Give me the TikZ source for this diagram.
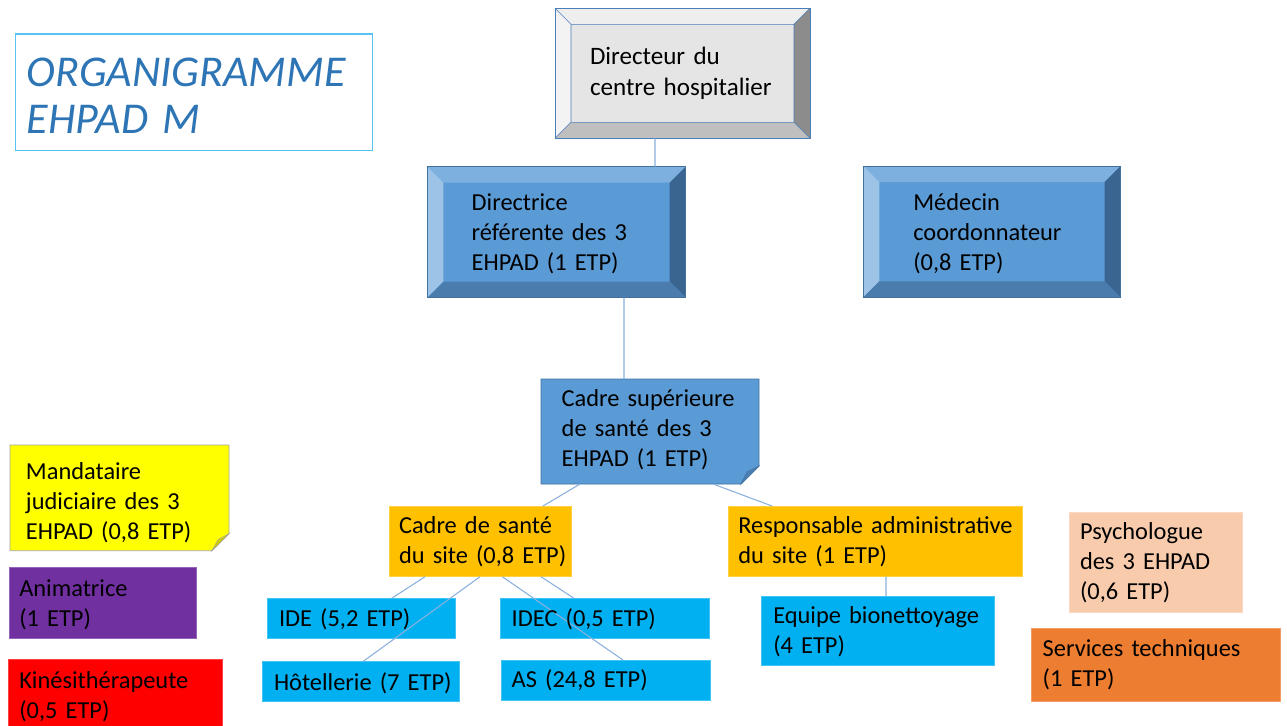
\documentclass[tikz,border=0pt]{standalone}
\usepackage{fontspec}
\setmainfont{Carlito}
\usetikzlibrary{calc,fit}
\definecolor{greyface}{HTML}{E5E5E5}
\definecolor{greytop}{HTML}{EEEEEE}
\definecolor{greyleft}{HTML}{F3F3F3}
\definecolor{greyright}{HTML}{8C8C8C}
\definecolor{greybottom}{HTML}{BFBFBF}
\definecolor{dirborder}{HTML}{4A7EBB}
\definecolor{blueface}{HTML}{5B9BD5}
\definecolor{bluetop}{HTML}{7DAFDF}
\definecolor{blueleft}{HTML}{9DC3E6}
\definecolor{blueright}{HTML}{3B6591}
\definecolor{bluebottom}{HTML}{4A7CAD}
\definecolor{blueborder}{HTML}{41719C}
\definecolor{bluefold}{HTML}{4A80B5}
\definecolor{connblue}{HTML}{8AB0DE}
\definecolor{titleblue}{HTML}{2E75B6}
\definecolor{titleframe}{HTML}{56C3F0}
\definecolor{ambre}{HTML}{FFC000}
\definecolor{cyanbox}{HTML}{00B0F0}
\definecolor{jaune}{HTML}{FFFF00}
\definecolor{jaunefold}{HTML}{CDCD00}
\definecolor{peche}{HTML}{F8CBAD}
\definecolor{orangebox}{HTML}{ED7D31}
\definecolor{violet}{HTML}{7030A0}
\definecolor{rouge}{HTML}{FF0000}
\newcommand\bevelbox[2]{% #1 node name, #2 prefix (grey/blue)
  \fill[#2face] (#1.north west) rectangle (#1.south east);
  \fill[#2top] (#1.north west) -- (#1.north east) -- ($(#1.north east)+(-16,16)$) -- ($(#1.north west)+(16,16)$) -- cycle;
  \fill[#2left] (#1.north west) -- ($(#1.north west)+(16,16)$) -- ($(#1.south west)+(16,-16)$) -- (#1.south west) -- cycle;
  \fill[#2right] (#1.north east) -- ($(#1.north east)+(-16,16)$) -- ($(#1.south east)+(-16,-16)$) -- (#1.south east) -- cycle;
  \fill[#2bottom] (#1.south west) -- ($(#1.south west)+(16,-16)$) -- ($(#1.south east)+(-16,-16)$) -- (#1.south east) -- cycle;
}
\begin{document}
\begin{tikzpicture}[x=0.75pt,y=-0.75pt,
  box/.style={inner sep=0pt,outer sep=0pt},
  txt/.style={anchor=base west,inner sep=0pt,outer sep=0pt,text width=260pt,align=left,
    font=\fontsize{18.3}{22.6}\selectfont},
  flat/.style={box,fill=#1,draw=#1!75!white,line width=0.5pt},
  conn/.style={draw=connblue,line width=0.8pt}]
\useasboundingbox (0,0) rectangle (1287,725);
\fill[white] (0,0) rectangle (1287,725);

% title
\node[box,fit={(15.7,34) (372.3,150.7)},draw=titleframe,line width=0.9pt] (title) {};
\node[txt,text=titleblue,font=\fontsize{33}{35}\selectfont\itshape] (ttitle) at (26.7,86.7) {ORGANIGRAMME\\EHPAD M};

% directeur
\node[box,fit={(555,8.3) (810,138.3)}] (dir) {};
\bevelbox{dir}{grey}
\draw[dirborder,line width=0.6pt] (dir.north west) rectangle (dir.south east);
\draw[dirborder,line width=0.4pt] ($(dir.north west)+(16,16)$) rectangle ($(dir.south east)+(-16,-16)$)
  (dir.north west) -- ++(16,16) (dir.north east) -- ++(-16,16) (dir.south west) -- ++(16,-16) (dir.south east) -- ++(-16,-16);
\node[txt,font=\fontsize{18.8}{23.8}\selectfont] (tdir) at (590,64) {Directeur du\\centre hospitalier};

% directrice
\node[box,fit={(427.3,166.7) (685.7,297.7)}] (dre) {};
\bevelbox{dre}{blue}
\draw[blueborder,line width=0.6pt] (dre.north west) rectangle (dre.south east);
\node[txt] (tdre) at (471.7,210.7) {Directrice\\référente des 3\\EHPAD (1 ETP)};

% medecin
\node[box,fit={(863.3,166) (1120.7,297.3)}] (med) {};
\bevelbox{med}{blue}
\draw[blueborder,line width=0.6pt] (med.north west) rectangle (med.south east);
\node[txt] (tmed) at (913.3,210.7) {Médecin\\coordonnateur\\(0,8 ETP)};

% cadre superieure (folded corner)
\node[box,fit={(541,379) (759,484)}] (csup) {};
\filldraw[fill=blueface,draw=blueborder,line width=0.6pt] (csup.north west) -- (csup.north east) -- ($(csup.south east)+(0,-18)$) -- ($(csup.south east)+(-18,0)$) -- (csup.south west) -- cycle;
\filldraw[fill=bluefold,draw=blueborder,line width=0.4pt] ($(csup.south east)+(0,-18)$) -- ($(csup.south east)+(-12,-12)$) -- ($(csup.south east)+(-18,0)$) -- cycle;
\node[txt] (tcsup) at (561.7,406.7) {Cadre supérieure\\de santé des 3\\EHPAD (1 ETP)};

% mandataire (folded corner)
\node[box,fit={(10,445) (229,550.7)}] (mand) {};
\filldraw[fill=jaune,draw=gray!70,line width=0.5pt] (mand.north west) -- (mand.north east) -- ($(mand.south east)+(0,-17)$) -- ($(mand.south east)+(-17,0)$) -- (mand.south west) -- cycle;
\filldraw[fill=jaunefold,draw=gray!70,line width=0.4pt] ($(mand.south east)+(0,-17)$) -- ($(mand.south east)+(-11,-11)$) -- ($(mand.south east)+(-17,0)$) -- cycle;
\node[txt] (tmand) at (26,479.3) {Mandataire\\judiciaire des 3\\EHPAD (0,8 ETP)};

% flat boxes
\node[flat=ambre,fit={(389,506) (571,576.7)}] (cds) {};
\node[flat=ambre,fit={(728,506) (1022,576.7)}] (resp) {};
\node[flat=cyanbox,fit={(267,598.3) (455,638.3)}] (ide) {};
\node[flat=cyanbox,fit={(500.7,598.3) (709,638.3)}] (idec) {};
\node[flat=cyanbox,fit={(262.7,661.7) (459,701.7)}] (hot) {};
\node[flat=cyanbox,fit={(501.7,660) (710,700)}] (as) {};
\node[flat=cyanbox,fit={(761.7,596) (994.3,665.7)}] (equ) {};
\node[flat=peche,fit={(1069.3,512.3) (1242.7,612.3)}] (psy) {};
\node[flat=orangebox,fit={(1031.7,628.3) (1280,701.7)}] (serv) {};
\node[flat=violet,fit={(9.3,567.3) (196,638.3)}] (anim) {};
\node[flat=rouge,fit={(8.3,659.3) (222.3,740)}] (kine) {};

% connectors
\draw[conn] ($(dir.south west)+(100,0)$) -- ($(dre.north west)+(227.7,0)$);
\draw[conn] ($(dre.south west)+(196.7,0)$) -- ($(csup.north west)+(83,0)$);
\draw[conn] ($(csup.south west)+(39,0)$) -- ($(cds.north west)+(154,0)$);
\draw[conn] ($(csup.south west)+(172,0)$) -- ($(resp.north west)+(44,0)$);
\draw[conn] ($(cds.south west)+(36,0)$) -- ($(ide.north west)+(124.7,0)$);
\draw[conn] ($(cds.south west)+(91,0)$) -- ($(hot.north west)+(100,0)$);
\draw[conn] ($(cds.south west)+(113.3,0)$) -- ($(as.north west)+(121.3,0)$);
\draw[conn] ($(cds.south west)+(152,0)$) -- ($(idec.north west)+(73.3,0)$);
\draw[conn] ($(resp.south west)+(158,0)$) -- ($(equ.north west)+(124.3,0)$);

% texts
\node[txt] (tcds) at (399,533.3) {Cadre de santé\\du site (0,8 ETP)};
\node[txt] (tresp) at (738.3,533.3) {Responsable administrative\\du site (1 ETP)};
\node[txt] (tide) at (279,626.7) {IDE (5,2 ETP)};
\node[txt] (tidec) at (511.7,626.7) {IDEC (0,5 ETP)};
\node[txt] (thot) at (274,690) {Hôtellerie (7 ETP)};
\node[txt] (tas) at (511.7,687.3) {AS (24,8 ETP)};
\node[txt] (tequ) at (773.3,623.3) {Equipe bionettoyage\\(4 ETP)};
\node[txt] (tpsy) at (1080,539.3) {Psychologue\\des 3 EHPAD\\(0,6 ETP)};
\node[txt] (tserv) at (1042.7,656.7) {Services techniques\\(1 ETP)};
\node[txt] (tanim) at (19.3,596.7) {Animatrice\\(1 ETP)};
\node[txt] (tkine) at (19.3,688.3) {Kinésithérapeute\\(0,5 ETP)};
\end{tikzpicture}
\end{document}
